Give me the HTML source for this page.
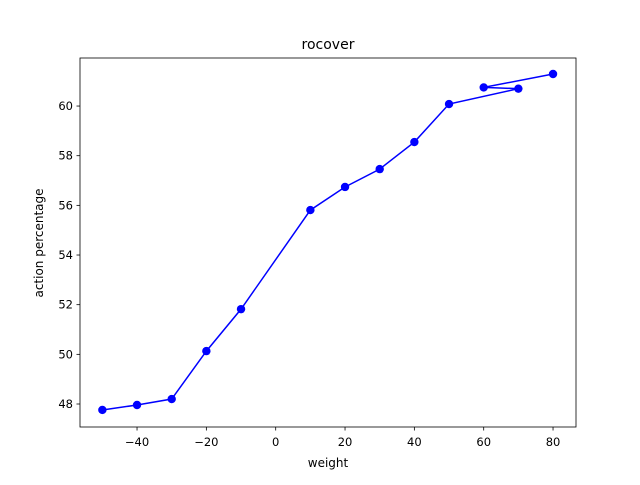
<!DOCTYPE html>
<html><head><meta charset="utf-8"><style>
body{margin:0;background:#fff}
text{font-family:"DejaVu Sans","Liberation Sans",sans-serif;fill:#000}
</style></head><body>
<svg id="chart" width="640" height="480" viewBox="0 0 640 480">
<rect width="640" height="480" fill="#fff"/>
<text x="328" y="49" font-size="14" text-anchor="middle">rocover</text>
<g id="plot"></g>
<rect x="80" y="58" width="496" height="369" fill="none" stroke="#000" stroke-width="0.8"/>
<text x="328" y="467" font-size="12" text-anchor="middle">weight</text>
<text transform="translate(43,243) rotate(-90)" font-size="12" text-anchor="middle">action percentage</text>
</svg>
<script>
const xs=[-50,-40,-30,-20,-10,10,20,30,40,50,70,60,80];
const ys=[47.76,47.96,48.2,50.13,51.82,55.81,56.74,57.46,58.55,60.08,60.7,60.75,61.29];
const xTicks=[-40,-20,0,20,40,60,80];
const yTicks=[48,50,52,54,56,58,60];
const X=v=>275.7+v*3.4667;
const Y=v=>404-(v-48)*24.83;
const NS="http://www.w3.org/2000/svg";
const g=document.getElementById('plot');
function mk(t,a){const e=document.createElementNS(NS,t);for(const k in a)e.setAttribute(k,a[k]);g.appendChild(e);return e;}
xTicks.forEach(t=>{
  const l=mk('line',{x1:X(t),x2:X(t),y1:427,y2:430.5,stroke:'#000','stroke-width':0.8});
  
  
  const tx=mk('text',{x:X(t),y:446,'font-size':11.5,'text-anchor':'middle'});
  tx.textContent=t<0?'\u2212'+(-t):t;
  
  
});
yTicks.forEach(t=>{
  const l=mk('line',{x1:76.5,x2:80,y1:Y(t),y2:Y(t),stroke:'#000','stroke-width':0.8});
  
  
  const tx=mk('text',{x:73,y:Y(t)+4,'font-size':11.5,'text-anchor':'end'});
  tx.textContent=t;
  
  
});
const p=mk('polyline',{points:xs.map((x,i)=>X(x)+','+Y(ys[i])).join(' '),fill:'none',stroke:'#0000ff','stroke-width':1.5});


xs.forEach((x,i)=>{
  const c=mk('circle',{cx:X(x),cy:Y(ys[i]),r:4.2,fill:'#0000ff'});
  
  
});
</script>
</body></html>
